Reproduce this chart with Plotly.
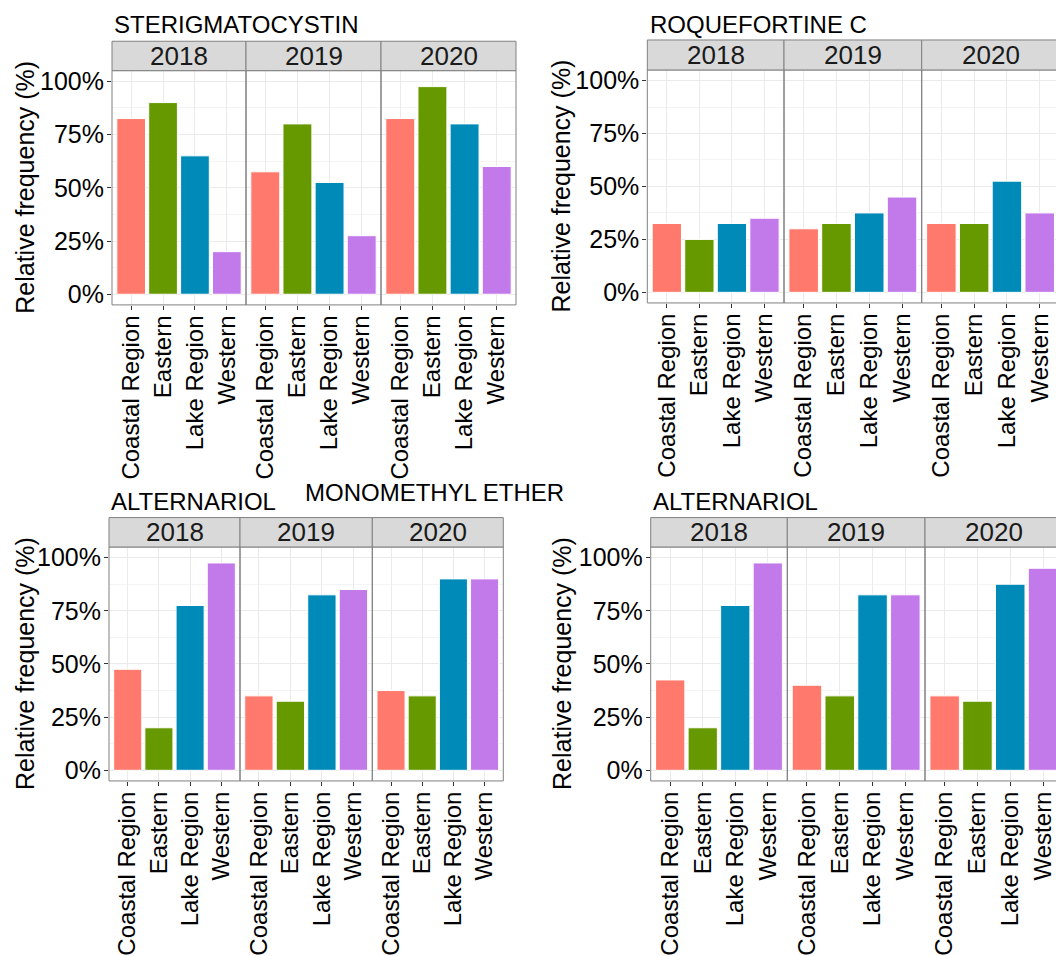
import plotly.graph_objects as go

W, H = 1056, 956
FONT = "Liberation Sans, Arial, sans-serif"

regions = ["Coastal Region", "Eastern", "Lake Region", "Western"]
years = ["2018", "2019", "2020"]
region_colors = ["#FF7A6D", "#669800", "#008AB8", "#C27AEA"]

# Relative frequency by year (rows: 2018, 2019, 2020); columns follow `regions`
sterigmatocystin = [[0.825, 0.900, 0.650, 0.200],
                    [0.575, 0.800, 0.525, 0.275],
                    [0.825, 0.975, 0.800, 0.600]]
roquefortine_c = [[0.325, 0.250, 0.325, 0.350],
                  [0.300, 0.325, 0.375, 0.450],
                  [0.325, 0.325, 0.525, 0.375]]
alternariol_monomethyl_ether = [[0.475, 0.200, 0.775, 0.975],
                                [0.350, 0.325, 0.825, 0.850],
                                [0.375, 0.350, 0.900, 0.900]]
alternariol = [[0.425, 0.200, 0.775, 0.975],
               [0.400, 0.350, 0.825, 0.825],
               [0.350, 0.325, 0.875, 0.950]]

y_ticks = [0, 0.25, 0.5, 0.75, 1.0]
y_tick_labels = ["0%", "25%", "50%", "75%", "100%"]
y_title = "Relative frequency (%)"

# Panel layout in pixels: facet edges, strip top, panel top/bottom, titles
panels = [
    dict(data=sterigmatocystin, edges=[112, 246, 381, 516], strip=38, top=68, bottom=307,
         titles=[("STERIGMATOCYSTIN", 112, 21)], ytitle_x=25),
    dict(data=roquefortine_c, edges=[647.3, 784, 921.7, 1059.4], strip=36.7, top=67.3, bottom=305,
         titles=[("ROQUEFORTINE C", 648, 20.5)], ytitle_x=561),
    dict(data=alternariol_monomethyl_ether, edges=[109, 240, 372.3, 503.3], strip=524, top=554, bottom=792.7,
         titles=[("ALTERNARIOL", 109, 507.5), ("MONOMETHYL ETHER", 303, 498)], ytitle_x=25),
    dict(data=alternariol, edges=[650.7, 787.3, 925, 1062.7], strip=524, top=554, bottom=792.7,
         titles=[("ALTERNARIOL", 651, 507.5)], ytitle_x=562),
]


def fx(px):
    return px / W


def fy(py):
    return 1 - py / H


fig = go.Figure()
shapes, annotations = [], []
layout_axes = {}
BORDER = "#808080"

k = 0
for p in panels:
    e = p["edges"]
    for j, yr in enumerate(years):
        k += 1
        left, right = e[j], e[j + 1]
        vis_right = min(right, W)
        x_hi = -0.6 + 4.2 * (vis_right - left) / (right - left)
        xa, ya = f"x{k}", f"y{k}"
        fig.add_trace(go.Bar(
            x=regions, y=p["data"][j], width=0.9,
            marker=dict(color=region_colors, line=dict(color="white", width=1)),
            xaxis=xa, yaxis=ya, showlegend=False,
        ))
        layout_axes[f"xaxis{k}"] = dict(
            domain=[fx(left), min(fx(right), 1.0)], anchor=ya, type="category",
            categoryorder="array", categoryarray=regions, range=[-0.6, x_hi],
            showgrid=True, gridcolor="#EBEBEB", gridwidth=1, zeroline=False,
            showline=False, ticks="outside", ticklen=4, tickcolor="#333333",
            tickangle=-90, ticklabelstandoff=-4,
            tickfont=dict(family=FONT, size=24, color="black"),
        )
        yax = dict(
            domain=[fy(p["bottom"]), fy(p["top"])], anchor=xa, range=[-0.05, 1.05],
            tickvals=y_ticks, ticktext=y_tick_labels,
            showgrid=True, gridcolor="#EBEBEB", gridwidth=1, zeroline=False, showline=False,
            minor=dict(tickvals=[0.125, 0.375, 0.625, 0.875], showgrid=True,
                       gridcolor="#F4F4F4", gridwidth=1, ticks=""),
        )
        if j == 0:
            yax.update(ticks="outside", ticklen=4, tickcolor="#333333", showticklabels=True,
                       ticklabelstandoff=-2,
                       tickfont=dict(family=FONT, size=25, color="black"))
        else:
            yax.update(ticks="", showticklabels=False)
        layout_axes[f"yaxis{k}"] = yax

        # panel border and strip
        shapes.append(dict(type="rect", xref="paper", yref="paper",
                           x0=fx(left), x1=fx(right), y0=fy(p["bottom"]), y1=fy(p["top"]),
                           line=dict(color=BORDER, width=1), fillcolor="rgba(0,0,0,0)", layer="above"))
        shapes.append(dict(type="rect", xref="paper", yref="paper",
                           x0=fx(left), x1=fx(right), y0=fy(p["top"]), y1=fy(p["strip"]),
                           line=dict(color=BORDER, width=1), fillcolor="#D9D9D9", layer="above"))
        annotations.append(dict(text=yr, xref="paper", yref="paper",
                                x=fx((left + right) / 2), y=fy((p["strip"] + p["top"]) / 2),
                                xanchor="center", yanchor="middle", showarrow=False,
                                font=dict(family=FONT, size=26, color="#1A1A1A")))

    for text, tx, ty in p["titles"]:
        annotations.append(dict(text=text, xref="paper", yref="paper", x=fx(tx), y=fy(ty),
                                xanchor="left", yanchor="middle", showarrow=False,
                                font=dict(family=FONT, size=24, color="black")))
    annotations.append(dict(text=y_title, xref="paper", yref="paper",
                            x=fx(p["ytitle_x"]), y=fy((p["top"] + p["bottom"]) / 2),
                            xanchor="center", yanchor="middle", textangle=-90, showarrow=False,
                            font=dict(family=FONT, size=25, color="black")))

fig.update_layout(
    width=W, height=H, margin=dict(l=0, r=0, t=0, b=0),
    paper_bgcolor="white", plot_bgcolor="white",
    shapes=shapes, annotations=annotations, **layout_axes,
)

fig.write_html("out.html")
